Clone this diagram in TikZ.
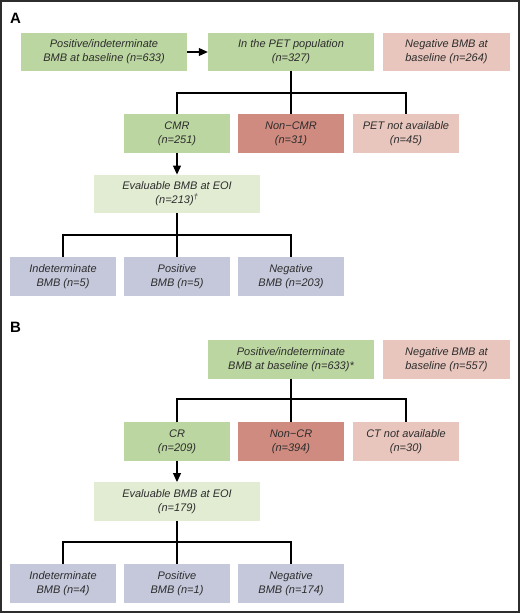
\documentclass[tikz,border=0pt]{standalone}
\usepackage{fontspec}
\setmainfont{Liberation Sans}
\usetikzlibrary{arrows.meta}
\definecolor{cgreen}{RGB}{187,214,160}
\definecolor{cpink}{RGB}{232,198,189}
\definecolor{cred}{RGB}{207,139,128}
\definecolor{clight}{RGB}{226,236,211}
\definecolor{clav}{RGB}{197,200,219}
\definecolor{textc}{RGB}{45,45,45}
\definecolor{framec}{RGB}{45,45,45}
\begin{document}
\begin{tikzpicture}[x=1pt,y=-1pt,
  box/.style={inner sep=0pt, align=center, text=textc,
    font=\fontsize{11}{14}\selectfont\itshape, minimum height=38.5pt},
  wide/.style={box, minimum width=166pt},
  narrow/.style={box, minimum width=106pt},
  negbox/.style={box, minimum width=127pt},
  link/.style={line width=1.1pt, black},
  arr/.style={link, -{Triangle[length=9pt,width=8pt]}},
  panel/.style={font=\fontsize{15}{15}\selectfont\bfseries, text=black, inner sep=0pt}]
\useasboundingbox (0,0) rectangle (520,613);
\draw[framec, line width=1.6pt] (1,1) rectangle (519,612);

% ---------- Panel A ----------
\node[panel] (labA) at (15.5,18.5) {A};
\node[wide, fill=cgreen] (a1) at (104,52) {Positive/indeterminate\\BMB at baseline (n=633)};
\node[wide, fill=cgreen] (a2) at (291,52) {In the PET population\\(n=327)};
\node[negbox, fill=cpink] (a3) at (446.5,52) {Negative BMB at\\baseline (n=264)};
\node[narrow, fill=cgreen] (a4) at (177,133.5) {CMR\\(n=251)};
\node[narrow, fill=cred] (a5) at (291,133.5) {Non−CMR\\(n=31)};
\node[narrow, fill=cpink] (a6) at (406,133.5) {PET not available\\(n=45)};
\node[wide, fill=clight] (a7) at (177,194) {Evaluable BMB at EOI\\(n=213)\textsuperscript{†}};
\node[narrow, fill=clav] (a8) at (63,276.5) {Indeterminate\\BMB (n=5)};
\node[narrow, fill=clav] (a9) at (177,276.5) {Positive\\BMB (n=5)};
\node[narrow, fill=clav] (a10) at (291,276.5) {Negative\\BMB (n=203)};
\coordinate (ja) at (291,93);
\coordinate (jb) at (177,235);

\draw[arr] (a1.east) -- (a2.west);
\draw[link] (a2.south) -- (ja);
\draw[link] (a4.north) -- (a4.north |- ja) -- (a6.north |- ja) -- (a6.north);
\draw[link] (ja) -- (a5.north);
\draw[arr] (a4.south) -- (a7.north);
\draw[link] (a7.south) -- (jb);
\draw[link] (a8.north) -- (a8.north |- jb) -- (a10.north |- jb) -- (a10.north);
\draw[link] (jb) -- (a9.north);

% ---------- Panel B ----------
\node[panel] (labB) at (15.5,327) {B};
\node[wide, fill=cgreen] (b1) at (291,359.5) {Positive/indeterminate\\BMB at baseline (n=633)*};
\node[negbox, fill=cpink] (b2) at (446.5,359.5) {Negative BMB at\\baseline (n=557)};
\node[narrow, fill=cgreen] (b4) at (177,441.5) {CR\\(n=209)};
\node[narrow, fill=cred] (b5) at (291,441.5) {Non−CR\\(n=394)};
\node[narrow, fill=cpink] (b6) at (406,441.5) {CT not available\\(n=30)};
\node[wide, fill=clight] (b7) at (177,501.5) {Evaluable BMB at EOI\\(n=179)};
\node[narrow, fill=clav] (b8) at (63,583.5) {Indeterminate\\BMB (n=4)};
\node[narrow, fill=clav] (b9) at (177,583.5) {Positive\\BMB (n=1)};
\node[narrow, fill=clav] (b10) at (291,583.5) {Negative\\BMB (n=174)};
\coordinate (jc) at (291,399);
\coordinate (jd) at (177,542);

\draw[link] (b1.south) -- (jc);
\draw[link] (b4.north) -- (b4.north |- jc) -- (b6.north |- jc) -- (b6.north);
\draw[link] (jc) -- (b5.north);
\draw[arr] (b4.south) -- (b7.north);
\draw[link] (b7.south) -- (jd);
\draw[link] (b8.north) -- (b8.north |- jd) -- (b10.north |- jd) -- (b10.north);
\draw[link] (jd) -- (b9.north);
\end{tikzpicture}
\end{document}
